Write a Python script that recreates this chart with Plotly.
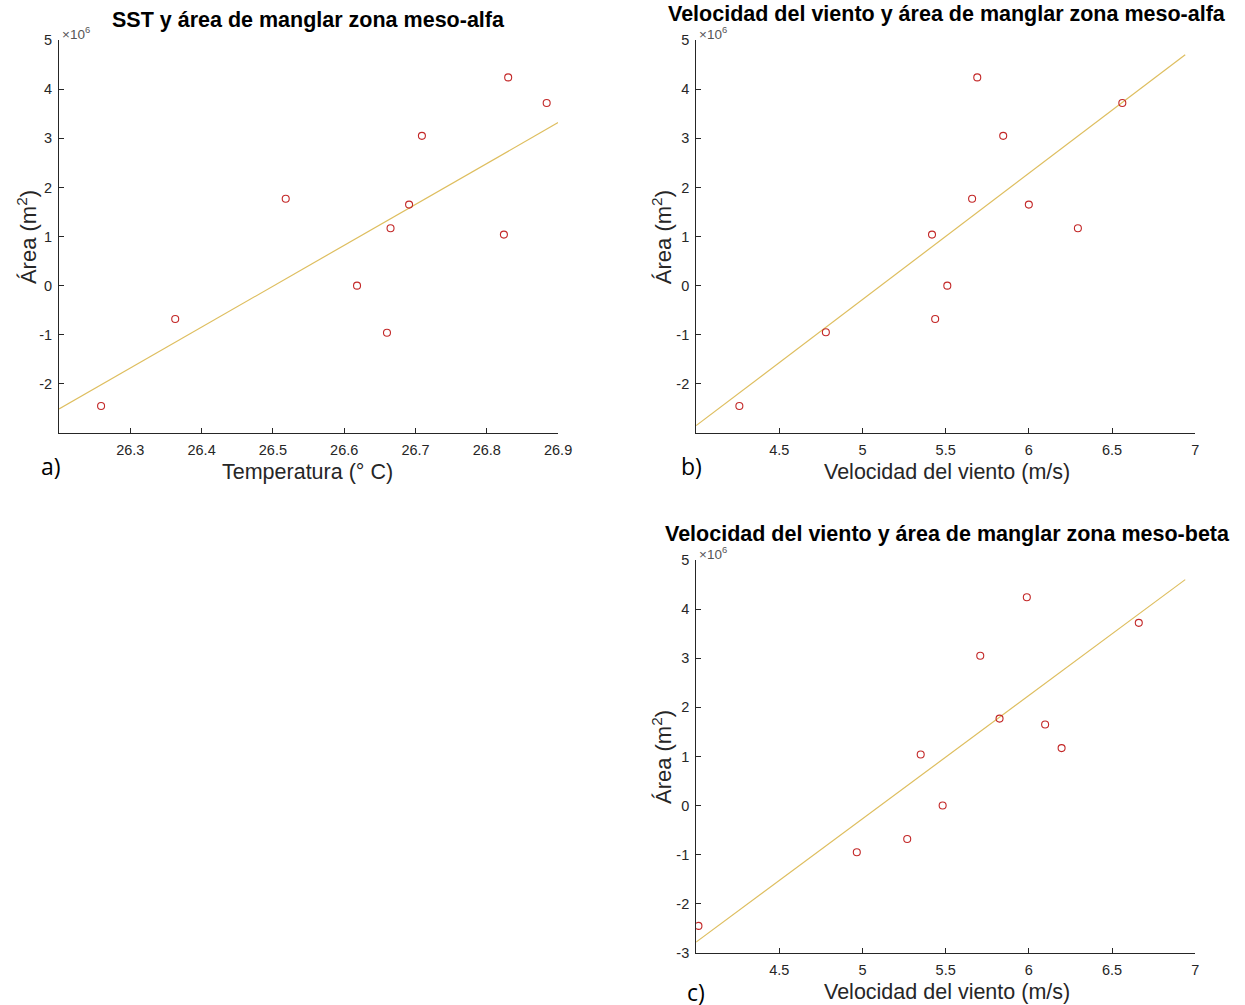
import plotly.graph_objects as go

# ---- data (area in units of 1e6 m^2) ----
sst_a = [26.259, 26.363, 26.518, 26.618, 26.660, 26.665, 26.691, 26.709, 26.824, 26.830, 26.884]
area_a = [-2.45, -0.68, 1.77, 0.0, -0.96, 1.17, 1.65, 3.05, 1.04, 4.24, 3.72]
fit_a_x = [26.2, 26.9]
fit_a_y = [-2.51, 3.32]

wind_b = [4.26, 4.78, 5.418, 5.437, 5.51, 5.659, 5.69, 5.846, 6.0, 6.295, 6.562]
area_b = [-2.45, -0.95, 1.04, -0.68, 0.0, 1.77, 4.24, 3.05, 1.65, 1.17, 3.72]
fit_b_x = [4.0, 6.94]
fit_b_y = [-2.85, 4.70]

wind_c = [4.014, 4.966, 5.269, 5.35, 5.482, 5.708, 5.824, 5.988, 6.098, 6.197, 6.661]
area_c = [-2.45, -0.95, -0.68, 1.04, 0.0, 3.05, 1.77, 4.24, 1.65, 1.17, 3.72]
fit_c_x = [4.0, 6.94]
fit_c_y = [-2.78, 4.60]

y_ticks = [-3, -2, -1, 0, 1, 2, 3, 4, 5]
y_labels_ab = ["", "-2", "-1", "0", "1", "2", "3", "4", "5"]
y_labels_c = ["-3", "-2", "-1", "0", "1", "2", "3", "4", "5"]
x_ticks_a = [26.3, 26.4, 26.5, 26.6, 26.7, 26.8, 26.9]
x_ticks_bc = [4.5, 5, 5.5, 6, 6.5, 7]
x_labels_bc = ["4.5", "5", "5.5", "6", "6.5", "7"]

titles = ["SST y área de manglar zona meso-alfa",
          "Velocidad del viento y área de manglar zona meso-alfa",
          "Velocidad del viento y área de manglar zona meso-beta"]
xtitles = ["Temperatura (° C)", "Velocidad del viento (m/s)", "Velocidad del viento (m/s)"]
ytitle = "Área (m<sup>2</sup>)"
panel_tags = ["a)", "b)", "c)"]

W, H = 1245, 1005
MARK = "rgb(195,40,40)"
LINE = "rgb(222,190,95)"
AX = "#262626"
FONT = "Liberation Sans, Arial, sans-serif"

# empirical mapping of the rendering (page offset/scale)
SX, SY, OY = 0.9886, 0.9843, 7.9


def px(x):
    return (x / SX) / W


def py(y):
    return 1 - ((y - OY) / SY) / H


fig = go.Figure()

# panel boxes in target pixels: (left, right, top, bottom)
boxes = [(59, 558, 40, 433), (696, 1195, 40, 433), (696, 1195, 560, 953)]
data = [(sst_a, area_a, fit_a_x, fit_a_y), (wind_b, area_b, fit_b_x, fit_b_y),
        (wind_c, area_c, fit_c_x, fit_c_y)]
xranges = [[26.2, 26.9], [4.0, 7.0], [4.0, 7.0]]
title_pos = [(308, 20), (947, 14), (947, 534)]
xtitle_pos = [(307, 472), (947, 472), (947, 992)]
ytitle_pos = [(27, 237), (662, 237), (662, 757)]
tag_pos = [(51, 466), (691, 466), (696, 992)]

layout = {}
for i, ((l, r, t, b), (xs, ys, fx, fy)) in enumerate(zip(boxes, data)):
    n = "" if i == 0 else str(i + 1)
    xa, ya = "x" + n, "y" + n
    fig.add_trace(go.Scatter(x=fx, y=fy, mode="lines", xaxis=xa, yaxis=ya,
                             line=dict(color=LINE, width=1.2), showlegend=False))
    fig.add_trace(go.Scatter(x=xs, y=ys, mode="markers", xaxis=xa, yaxis=ya,
                             marker=dict(symbol="circle-open", size=7, color=MARK,
                                         line=dict(width=1.1, color=MARK)),
                             showlegend=False))
    common = dict(showgrid=False, zeroline=False, showline=True, linecolor=AX, linewidth=1,
                  ticks="inside", ticklen=5, tickcolor=AX, mirror=False,
                  tickfont=dict(family=FONT, size=14.5, color=AX))
    layout["xaxis" + n] = dict(domain=[px(l), px(r)], range=xranges[i], anchor=ya,
                               tickvals=x_ticks_a if i == 0 else x_ticks_bc,
                               ticktext=[str(v) for v in x_ticks_a] if i == 0 else x_labels_bc,
                               ticklabelstandoff=4, **common)
    layout["yaxis" + n] = dict(domain=[py(b), py(t)], range=[-3, 5], anchor=xa,
                               tickvals=y_ticks,
                               ticktext=y_labels_c if i == 2 else y_labels_ab,
                               ticklabelstandoff=3, **common)

fig.update_layout(**layout)

ann = []
for i, (l, r, t, b) in enumerate(boxes):
    tx, ty = title_pos[i]
    ann.append(dict(x=px(tx), y=py(ty), xref="paper", yref="paper",
                    text="<b>" + titles[i] + "</b>", showarrow=False, xanchor="center", yanchor="middle",
                    font=dict(family=FONT, size=21.5, color="black")))
    ann.append(dict(x=px(l + 1), y=py(t - 7), xref="paper", yref="paper",
                    text="×10<sup>6</sup>", showarrow=False, xanchor="left", yanchor="middle",
                    font=dict(family=FONT, size=13.5, color="#555555")))
    xx, xy = xtitle_pos[i]
    ann.append(dict(x=px(xx), y=py(xy), xref="paper", yref="paper",
                    text=xtitles[i], showarrow=False, xanchor="center", yanchor="middle",
                    font=dict(family=FONT, size=21.5, color=AX)))
    yx, yy = ytitle_pos[i]
    ann.append(dict(x=px(yx), y=py(yy), xref="paper", yref="paper",
                    text=ytitle, showarrow=False, textangle=-90, xanchor="center", yanchor="middle",
                    font=dict(family=FONT, size=22, color=AX)))
    gx, gy = tag_pos[i]
    ann.append(dict(x=px(gx), y=py(gy), xref="paper", yref="paper",
                    text=panel_tags[i], showarrow=False, xanchor="center", yanchor="middle",
                    font=dict(family="Open Sans, sans-serif", size=23, color="black")))

fig.update_layout(width=W, height=H, margin=dict(l=0, r=0, t=0, b=0),
                  paper_bgcolor="white", plot_bgcolor="white", annotations=ann,
                  font=dict(family=FONT))

fig.write_html("out.html")
